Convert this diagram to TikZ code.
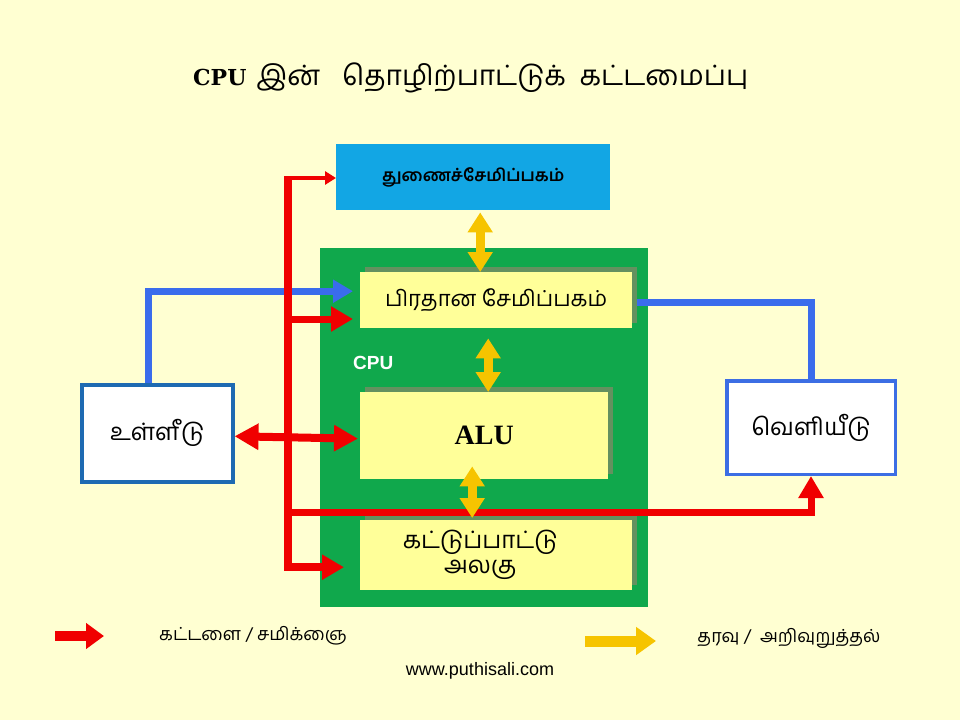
\documentclass[tikz,border=0pt]{standalone}
\usepackage{fontspec}
\setmainfont{Liberation Serif}
\newfontfamily\tam[Script=Tamil]{Hind Madurai}
\newfontfamily\arialf{Liberation Sans}
\newfontfamily\dvs{DejaVu Serif}
\usetikzlibrary{arrows.meta,shadows,calc}
\definecolor{bg}{RGB}{255,255,210}
\definecolor{cyanbox}{RGB}{18,166,228}
\definecolor{cpugreen}{RGB}{16,168,76}
\definecolor{paleyel}{RGB}{255,255,153}
\definecolor{shadowc}{RGB}{100,145,95}
\definecolor{redc}{RGB}{240,0,0}
\definecolor{bluec}{RGB}{58,108,236}
\definecolor{inblue}{RGB}{30,106,178}
\definecolor{outblue}{RGB}{60,110,228}
\definecolor{gold}{RGB}{246,196,0}
\tikzset{
  box/.style={inner sep=0pt, anchor=north west},
  innerbox/.style={box, fill=paleyel, drop shadow={shadow xshift=5pt, shadow yshift=5pt, fill=shadowc, opacity=1}},
  iobox/.style={box, fill=white, line width=3.5pt},
  redarr/.style={draw=redc, line width=7pt, -{Triangle[length=22pt,width=24pt]}},
  redsmall/.style={draw=redc, line width=4.5pt, -{Triangle[length=11pt,width=13pt]}},
  reddbl/.style={draw=redc, line width=8pt, {Triangle[length=24pt,width=25pt]}-{Triangle[length=24pt,width=25pt]}},
  bluearr/.style={draw=bluec, line width=7pt, -{Triangle[length=20pt,width=22pt]}},
  blueline/.style={draw=bluec, line width=7pt},
  yarr/.style={draw=gold, line width=9pt, {Triangle[length=20pt,width=24pt]}-{Triangle[length=20pt,width=24pt]}},
  tamtxt/.style={font=\tam\fontsize{#1}{#1}\selectfont},
}
\begin{document}
\begin{tikzpicture}[x=1pt,y=-1pt]
\fill[bg] (0,0) rectangle (960,720);
\useasboundingbox (0,0) rectangle (960,720);

% title
\node[anchor=west, inner sep=0pt] (title) at (193,78)
  {{\dvs\bfseries\fontsize{22}{24}\selectfont CPU}\hspace{10pt}{\tam\fontsize{28}{30}\selectfont இன்\hspace{22pt}தொழிற்பாட்டுக் \ கட்டமைப்பு}};

% boxes
\node[box, fill=cyanbox, minimum width=274pt, minimum height=66pt, tamtxt=17] (ss) at (336,144) {\bfseries துணைச்சேமிப்பகம்};
\node[box, fill=cpugreen, minimum width=328pt, minimum height=359pt] (cpu) at (320,248) {};
\node[innerbox, minimum width=272pt, minimum height=56pt, tamtxt=22] (mm) at (360,272) {பிரதான சேமிப்பகம்};
\node[anchor=west, inner sep=0pt, text=white, font=\arialf\bfseries\fontsize{19}{20}\selectfont] (cpulbl) at (353,363) {CPU};
\node[innerbox, minimum width=248pt, minimum height=87pt, font=\bfseries\fontsize{28}{30}\selectfont] (alu) at (360,392) {ALU};
\node[innerbox, minimum width=272pt, minimum height=70pt, font=\tam\fontsize{24}{25}\selectfont, align=center] (cu) at (360,520) {\hspace*{-32pt}கட்டுப்பாட்டு\\\hspace*{-32pt}அலகு};
\node[iobox, draw=inblue, minimum width=151pt, minimum height=97pt, tamtxt=24] (in) at (80,383) {\raisebox{7pt}{உள்ளீடு}};
\node[iobox, draw=outblue, minimum width=168.5pt, minimum height=93.5pt, tamtxt=24] (out) at (725,379) {வெளியீடு};

% blue connectors
\draw[bluearr, shorten >=7pt] ([xshift=-9pt]in.north) |- ([yshift=9pt]mm.west);
\draw[blueline] ([xshift=5pt,yshift=-2pt]mm.east) -| (out.north);

% red connectors
\coordinate (bt) at (288,178);
\coordinate (r2) at (288,319);
\coordinate (r3) at (288,512);
\draw[redarr, line width=8pt, shorten >=16pt] ([yshift=2pt]bt) |- ([yshift=-12pt]cu.west);
\draw[redsmall] (bt) -- (bt -| ss.west);
\draw[redarr, shorten >=7pt] (r2) -- (r2 -| mm.west);
\draw[redarr] (r3) -| (out.south);
\draw[reddbl, shorten >=2pt] ([yshift=-3pt]in.east) -- ([yshift=-3pt]alu.west);

% yellow connectors
\draw[yarr, shorten <=2pt] ([xshift=7pt]ss.south) -- ([xshift=7pt]ss.south |- mm.north);
\draw[yarr, shorten <=10pt] ([xshift=-8pt]mm.south) -- ([xshift=-8pt]mm.south |- alu.north);
\draw[yarr, shorten >=2pt] ([xshift=-12pt,yshift=13pt]alu.south) -- ([xshift=-12pt]alu.south |- cu.north);

% legend
\coordinate (l1a) at (55,636);
\coordinate (l1b) at (104,636);
\draw[draw=redc, line width=10pt, -{Triangle[length=18pt,width=25pt]}] (l1a) -- (l1b);
\node[tamtxt=18] (l1t) at (253,636) {கட்டளை / சமிக்ஞை};
\coordinate (l2a) at (585,641);
\coordinate (l2b) at (656,641);
\draw[draw=gold, line width=11pt, -{Triangle[length=20pt,width=27pt]}] (l2a) -- (l2b);
\node[tamtxt=18] (l2t) at (789,638) {தரவு / \ அறிவுறுத்தல்};

\node[font=\arialf\fontsize{18}{20}\selectfont] (web) at (480,671) {www.puthisali.com};
\end{tikzpicture}
\end{document}
